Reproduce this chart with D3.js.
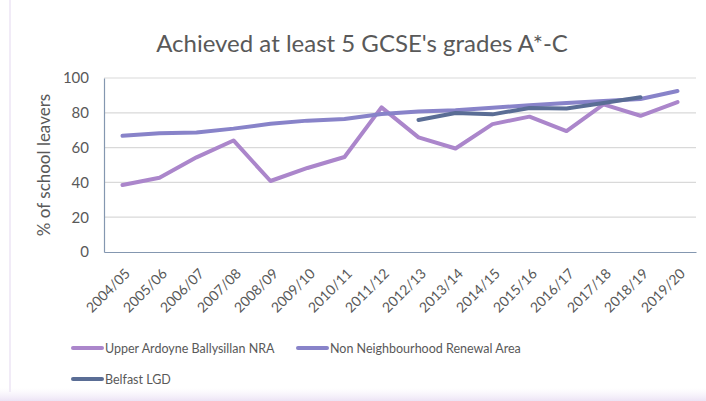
<!DOCTYPE html>
<html>
<head>
<meta charset="utf-8">
<script src="https://cdn.jsdelivr.net/npm/d3@7"></script>
<style>
  body { margin: 0; background: #fff; }
  svg { display: block; font-family: Lato, "Open Sans", sans-serif; }
</style>
</head>
<body>
<script>
const width = 706;
const height = 401;

// data
const years = ["2004/05","2005/06","2006/07","2007/08","2008/09","2009/10","2010/11","2011/12",
  "2012/13","2013/14","2014/15","2015/16","2016/17","2017/18","2018/19","2019/20"];
const upperArdoyne = [38.5,42.7,54.4,64.1,40.8,48.3,54.6,83.1,65.9,59.5,73.5,77.8,69.5,84.8,78.3,86.2];
const nonNRA = [66.8,68.2,68.7,70.9,73.7,75.5,76.4,79.3,80.8,81.4,82.9,84.3,85.6,86.8,87.9,92.5];
const belfastLGD = [null,null,null,null,null,null,null,null,75.9,79.9,79.1,82.8,82.5,85.6,88.9,null];
const yTicks = [0,20,40,60,80,100];

const series = [
  {name: "Upper Ardoyne Ballysillan NRA", values: upperArdoyne, color: "#ab86cb"},
  {name: "Non Neighbourhood Renewal Area", values: nonNRA, color: "#8883c9"},
  {name: "Belfast LGD", values: belfastLGD, color: "#5a6d95"}
];

const margin = {left: 104, right: 10, top: 78, bottom: 149};

const svg = d3.select("body").append("svg")
  .attr("width", width)
  .attr("height", height);

// faint frame bits like the source screenshot
const grad = svg.append("defs").append("linearGradient")
  .attr("id", "fade").attr("x1", 0).attr("x2", 0).attr("y1", 0).attr("y2", 1);
grad.append("stop").attr("offset", 0).attr("stop-color", "#f4effa").attr("stop-opacity", 0);
grad.append("stop").attr("offset", 1).attr("stop-color", "#ece3f5");
svg.append("rect").attr("x", 0).attr("y", 388).attr("width", width).attr("height", 13).attr("fill", "url(#fade)");
svg.append("rect").attr("x", 9).attr("y", 0).attr("width", 2).attr("height", 392).attr("fill", "#f1ebf7");

const x = d3.scaleBand()
  .domain(years)
  .range([margin.left, 696]);

const y = d3.scaleLinear()
  .domain([0, 100])
  .range([252, 78]);

// title
svg.append("text")
  .attr("x", 362).attr("y", 52)
  .attr("text-anchor", "middle")
  .attr("fill", "#595959")
  .style("font-size", "24px")
  .text("Achieved at least 5 GCSE's grades A*-C");

// gridlines
svg.append("g").selectAll("line")
  .data(yTicks.filter(d => d > 0))
  .join("line")
  .attr("x1", margin.left).attr("x2", 696)
  .attr("y1", d => y(d)).attr("y2", d => y(d))
  .attr("stroke", "#d9d9d9").attr("stroke-width", 1.2);

// y axis
const yAxis = svg.append("g")
  .attr("transform", `translate(${margin.left},0)`)
  .call(d3.axisLeft(y).tickValues(yTicks).tickSize(0).tickPadding(15));
yAxis.select(".domain").attr("stroke", "#8497b0").attr("stroke-width", 1.2);
yAxis.selectAll("text").attr("fill", "#595959").style("font-size", "15px").style("font-family", "Lato, sans-serif");

// x axis
const xAxis = svg.append("g")
  .attr("transform", `translate(0,${y(0)})`)
  .call(d3.axisBottom(x).tickSize(0));
xAxis.select(".domain").attr("stroke", "#8497b0").attr("stroke-width", 1.2);
xAxis.selectAll("text")
  .attr("fill", "#595959")
  .style("font-size", "14px")
  .style("font-family", "Lato, sans-serif")
  .attr("text-anchor", "end")
  .attr("y", 0)
  .attr("dy", "0.35em")
  .attr("transform", "translate(5,19) rotate(-45)");

// y label
svg.append("text")
  .attr("transform", "translate(50,165) rotate(-90)")
  .attr("text-anchor", "middle")
  .attr("fill", "#595959")
  .style("font-size", "17px")
  .text("% of school leavers");

// lines
const line = d3.line()
  .defined(d => d.v != null)
  .x(d => x(d.year) + x.bandwidth() / 2)
  .y(d => y(d.v));

svg.append("g").selectAll("path")
  .data(series)
  .join("path")
  .attr("d", s => line(years.map((yr, i) => ({year: yr, v: s.values[i]}))))
  .attr("fill", "none")
  .attr("stroke", s => s.color)
  .attr("stroke-width", 4)
  .attr("stroke-linejoin", "round")
  .attr("stroke-linecap", "round");

// legend
const legendPos = [[73, 348], [298, 348], [73, 379]];
const legend = svg.append("g").selectAll("g")
  .data(series)
  .join("g")
  .attr("transform", (d, i) => `translate(${legendPos[i][0]},${legendPos[i][1]})`);
legend.append("line")
  .attr("x1", 0).attr("x2", 29)
  .attr("stroke", d => d.color)
  .attr("stroke-width", 4)
  .attr("stroke-linecap", "round");
legend.append("text")
  .attr("x", 32).attr("y", 5)
  .attr("fill", "#595959")
  .style("font-size", "12.5px")
  .text(d => d.name);
</script>
</body>
</html>
